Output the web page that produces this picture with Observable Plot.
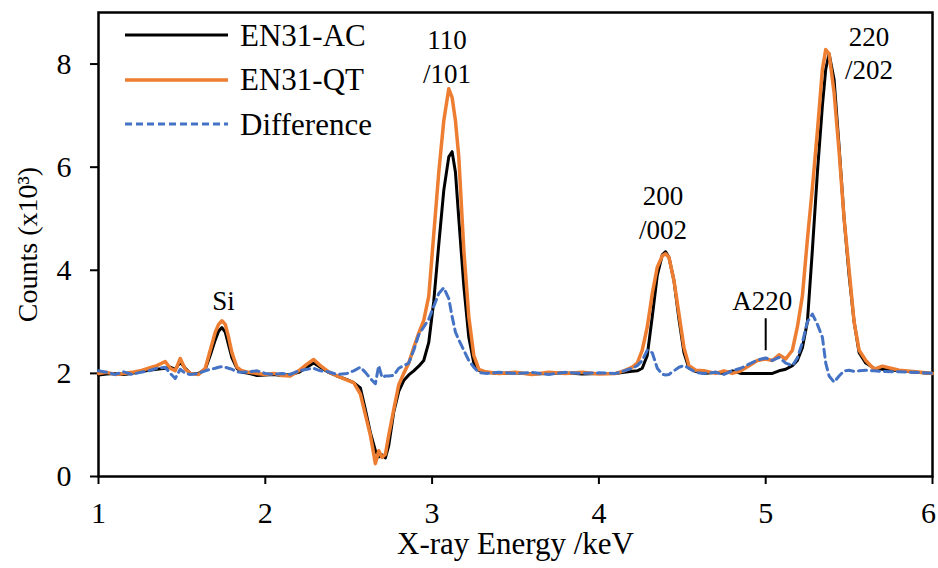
<!DOCTYPE html>
<html><head><meta charset="utf-8">
<script src="https://cdn.jsdelivr.net/npm/d3@7"></script>
<script src="https://cdn.jsdelivr.net/npm/@observablehq/plot@0.6"></script>
<style>
body{margin:0;background:#fff;}
#wrap{position:relative;width:938px;height:568px;font-family:'Liberation Serif','Times New Roman',serif;}
#legend{position:absolute;left:125px;top:13px;}
.row{display:flex;align-items:center;height:44.5px;}
.row svg{width:103px;height:10px;margin-right:12px;}
.row span{font-size:31px;line-height:1;color:#000;}
svg text{font-family:'Liberation Serif','Times New Roman',serif;}
</style>
</head><body>
<div id="wrap"><div id="legend"></div></div>
<script>
const energy = [
  1.00,1.05,1.10,1.15,1.20,1.25,1.30,1.35,1.40,1.43,
  1.46,1.49,1.52,1.55,1.60,1.64,1.67,1.70,1.72,1.74,
  1.76,1.78,1.80,1.83,1.86,1.90,1.95,2.00,2.05,2.10,
  2.15,2.20,2.25,2.29,2.33,2.38,2.43,2.49,2.53,2.57,
  2.60,2.63,2.66,2.68,2.70,2.72,2.74,2.77,2.80,2.83,
  2.86,2.89,2.92,2.95,2.98,3.01,3.04,3.07,3.10,3.12,
  3.14,3.16,3.19,3.22,3.25,3.28,3.32,3.40,3.50,3.60,
  3.70,3.80,3.90,4.00,4.10,4.15,4.20,4.23,4.26,4.29,
  4.32,4.35,4.38,4.40,4.42,4.45,4.48,4.51,4.54,4.58,
  4.63,4.70,4.75,4.80,4.85,4.90,4.95,5.00,5.04,5.08,
  5.12,5.16,5.19,5.22,5.25,5.28,5.31,5.34,5.36,5.38,
  5.41,5.44,5.47,5.50,5.53,5.56,5.60,5.65,5.70,5.80,
  5.90,6.00
];
const en31AC = [
  1.97,1.99,2.00,1.98,2.00,2.03,2.06,2.08,2.10,2.12,
  2.08,2.22,2.10,2.00,2.00,2.08,2.35,2.65,2.82,2.89,
  2.80,2.55,2.30,2.10,2.02,2.00,1.96,1.97,1.98,1.96,
  1.98,2.02,2.12,2.20,2.12,2.02,1.95,1.88,1.82,1.72,
  1.30,0.85,0.50,0.38,0.42,0.36,0.60,1.25,1.65,1.86,
  1.97,2.05,2.14,2.25,2.60,3.40,4.50,5.55,6.20,6.30,
  5.90,5.00,3.70,2.70,2.20,2.06,2.02,2.00,2.01,1.99,
  2.00,2.01,1.99,2.00,2.00,2.02,2.04,2.05,2.10,2.35,
  3.10,3.90,4.30,4.36,4.25,3.80,3.05,2.40,2.10,2.04,
  2.00,2.02,2.00,2.05,2.00,2.00,2.00,2.00,2.00,2.05,
  2.08,2.15,2.25,2.50,3.00,4.40,5.90,7.20,7.90,8.20,
  7.70,6.40,5.00,3.90,3.00,2.40,2.20,2.10,2.08,2.05,
  2.02,2.00
];
const en31QT = [
  2.00,2.02,1.98,2.00,2.02,2.05,2.10,2.15,2.23,2.10,
  2.05,2.29,2.08,2.00,1.98,2.10,2.45,2.80,2.95,3.02,
  2.95,2.70,2.40,2.12,2.05,2.02,2.00,1.98,2.00,1.96,
  1.95,2.05,2.18,2.27,2.15,2.03,1.95,1.87,1.82,1.60,
  1.20,0.80,0.25,0.50,0.37,0.43,0.80,1.30,1.78,2.00,
  2.20,2.50,2.78,3.03,3.50,4.70,5.90,6.90,7.52,7.35,
  6.90,6.20,4.40,3.10,2.35,2.08,2.03,2.00,2.02,1.98,
  2.02,2.00,2.02,1.99,2.00,2.05,2.12,2.20,2.45,2.90,
  3.55,4.06,4.28,4.32,4.25,3.80,3.15,2.50,2.15,2.06,
  2.05,2.00,2.05,2.00,2.05,2.15,2.25,2.28,2.25,2.36,
  2.28,2.45,2.90,3.50,4.60,5.60,6.70,7.90,8.28,8.20,
  7.45,6.30,5.00,4.00,3.00,2.45,2.25,2.08,2.14,2.06,
  2.03,2.00
];
const difference = [
  2.05,2.02,1.98,2.03,1.98,2.02,2.05,2.10,2.12,2.00,
  1.90,2.08,2.00,1.98,2.00,2.05,2.08,2.10,2.12,2.13,
  2.12,2.10,2.08,2.03,2.02,2.03,2.05,2.00,1.98,2.00,
  1.98,2.05,2.08,2.10,2.05,2.03,1.98,2.00,2.05,2.12,
  2.02,1.90,1.80,2.15,1.92,1.95,1.95,1.96,2.10,2.15,
  2.20,2.45,2.75,2.90,3.05,3.30,3.55,3.66,3.45,3.10,
  2.80,2.65,2.45,2.25,2.12,2.02,2.00,2.02,2.00,2.02,
  1.98,2.02,2.00,2.01,2.00,2.05,2.10,2.15,2.25,2.45,
  2.40,2.10,1.98,1.97,1.98,2.05,2.12,2.15,2.10,2.02,
  2.00,2.02,1.98,2.05,2.10,2.18,2.26,2.30,2.25,2.31,
  2.20,2.15,2.30,2.60,3.00,3.15,2.95,2.70,2.20,1.95,
  1.83,1.95,2.05,2.06,2.04,2.05,2.06,2.05,2.04,2.03,
  2.02,2.00
];
const seriesNames = ["EN31-AC", "EN31-QT", "Difference"];
const seriesColors = ["#000000", "#ED7D31", "#4472C4"];
const xTicks = [1, 2, 3, 4, 5, 6];
const yTicks = [0, 2, 4, 6, 8];
const peakLabels = ["Si", "110\n/101", "200\n/002", "A220", "220\n/202"];
const peakLabelEnergy = [1.75, 3.09, 4.385, 4.98, 5.62];
const peakLabelCounts = [3.43, 8.17, 5.15, 3.44, 8.24];
const markerEnergy = [5.0];
const markerLow = [2.44];
const markerHigh = [3.06];
const xTitle = "X-ray Energy /keV";
const yTitle = "Counts (x10³)";

const font = "'Liberation Serif','Times New Roman',serif";
const fmt = d3.format("d");
const chart = Plot.plot({
  width: 938, height: 568,
  marginLeft: 98, marginRight: 6, marginTop: 12, marginBottom: 92,
  x: {domain: [1, 6]},
  y: {domain: [0, 9]},
  style: {fontFamily: font, color: "black", background: "white", overflow: "visible"},
  marks: [
    Plot.axisX(xTicks, {tickSize: 8, tickPadding: 17, fontSize: 30, fontFamily: font, strokeWidth: 2, tickFormat: fmt, label: null}),
    Plot.axisY(yTicks, {tickSize: 8, tickPadding: 19, fontSize: 30, fontFamily: font, strokeWidth: 2, tickFormat: fmt, label: null}),
    Plot.frame({stroke: "black", strokeWidth: 2.5}),
    Plot.line(en31AC, {x: energy, y: en31AC, stroke: seriesColors[0], strokeWidth: 3}),
    Plot.line(en31QT, {x: energy, y: en31QT, stroke: seriesColors[1], strokeWidth: 3.5}),
    Plot.line(difference, {x: energy, y: difference, stroke: seriesColors[2], strokeWidth: 3, strokeDasharray: "8,5"}),
    Plot.text(peakLabels, {x: peakLabelEnergy, y: peakLabelCounts, text: d => d, fontSize: 27, fontFamily: font, lineHeight: 1.25}),
    Plot.ruleX(markerEnergy, {x: d => d, y1: markerLow, y2: markerHigh, stroke: "black", strokeWidth: 2}),
    Plot.text([yTitle], {frameAnchor: "left", textAnchor: "middle", rotate: -90, dx: -70, fontSize: 28, fontFamily: font}),
    Plot.text([xTitle], {frameAnchor: "bottom", textAnchor: "middle", dy: 77, fontSize: 31, fontFamily: font})
  ]
});
const wrap = document.getElementById("wrap");
wrap.insertBefore(chart, wrap.firstChild);

// keep the last x tick label ("6") inside the window
const xLabels = Array.from(chart.querySelectorAll("g[aria-label='x-axis tick label'] text"));
if (xLabels.length) {
  const last = xLabels[xLabels.length - 1];
  last.setAttribute("dx", "-4");
}

const legend = document.getElementById("legend");
seriesNames.forEach((name, i) => {
  const row = document.createElement("div");
  row.className = "row";
  const dash = i === 2 ? 'stroke-dasharray="7,4"' : '';
  const sw = i === 1 ? 3.5 : 3;
  row.innerHTML = `<svg viewBox="0 0 103 10"><line x1="0" y1="5" x2="103" y2="5" stroke="${seriesColors[i]}" stroke-width="${sw}" ${dash}/></svg><span>${name}</span>`;
  legend.appendChild(row);
});
chart.style.position = "absolute";
chart.style.left = "0";
chart.style.top = "0";
</script>
</body></html>
